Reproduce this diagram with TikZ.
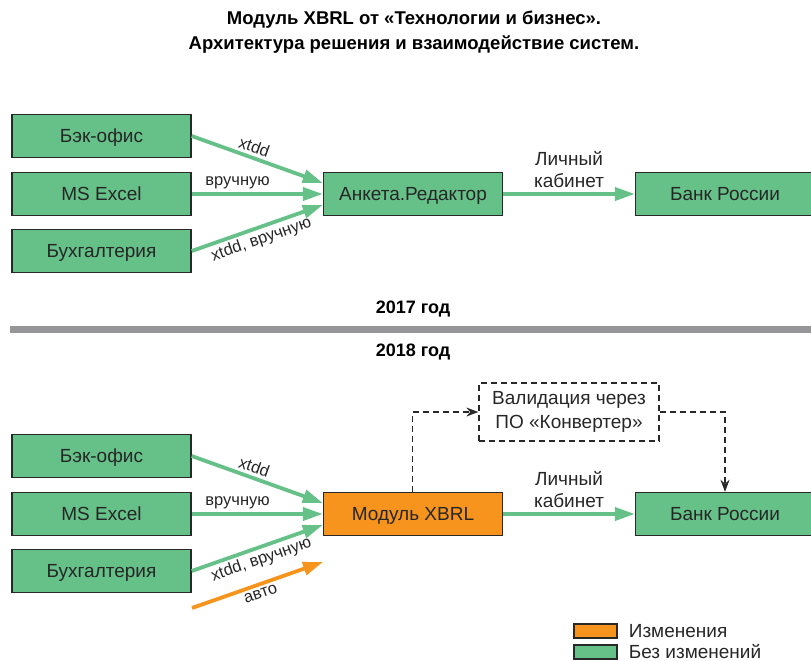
\documentclass[tikz,border=0pt]{standalone}
\usepackage{fontspec}
\setmainfont{Liberation Sans}
\usetikzlibrary{arrows.meta, positioning}
\definecolor{keepcolor}{RGB}{102,193,137}
\definecolor{changecolor}{RGB}{247,148,29}
\definecolor{bordercolor}{RGB}{40,40,40}
\definecolor{sepcolor}{RGB}{150,150,152}

\begin{document}
\begin{tikzpicture}[
    x=1pt, y=-1pt,
    box/.style={draw=bordercolor, line width=1.4pt, minimum width=179pt, minimum height=43pt, inner sep=0pt, text height=13.6pt, text depth=0pt, font=\fontsize{19}{22}\selectfont, text=black!85},
    dashbox/.style={draw=bordercolor, dash pattern=on 6pt off 4pt, line width=1.3pt, minimum width=180pt, minimum height=58pt, inner sep=0pt, align=center, font=\fontsize{19}{24}\selectfont, text=black!85},
    arrow/.style={-{Triangle[length=20pt, width=13pt]}, line width=3.8pt, keepcolor},
    dasharrow/.style={-{Stealth[length=12pt, width=9pt]}, line width=1.3pt, dash pattern=on 6pt off 4pt, bordercolor},
    lbl/.style={font=\fontsize{16.5}{18}\selectfont, text=black!85, inner sep=3pt},
    keybox/.style={draw=bordercolor, line width=1.3pt, minimum width=43pt, minimum height=14pt, inner sep=0pt}
]
    \useasboundingbox (0,0) rectangle (811,661);

    % Title
    \node[font=\bfseries\fontsize{18.5}{25}\selectfont, align=center] (title) at (414,32) {Модуль XBRL от «Технологии и бизнес».\\Архитектура решения и взаимодействие систем.};

    % 2017
    \node[box, fill=keepcolor] (office) at (101.5,136) {Бэк-офис};
    \node[box, fill=keepcolor] (excel) at (101.5,194) {MS Excel};
    \node[box, fill=keepcolor] (account) at (101.5,251) {Бухгалтерия};
    \node[box, fill=keepcolor] (editor) at (413,194) {Анкета.Редактор};
    \node[box, fill=keepcolor] (bank) at (725,194) {Банк России};

    \draw[arrow] (office.east) -- node[lbl, pos=0.45, above, sloped] {xtdd} ([yshift=11pt]editor.west);
    \draw[arrow] (excel.east) -- node[lbl, pos=0.35, above] {вручную} (editor.west);
    \draw[arrow] (account.east) -- node[lbl, pos=0.5, below, sloped] {xtdd, вручную} ([yshift=-11pt]editor.west);
    \draw[arrow] (editor.east) -- node[lbl, font=\fontsize{19}{22}\selectfont, align=center, above=1pt] {Личный\\кабинет} (bank.west);

    % Separator
    \node[font=\bfseries\fontsize{18}{20}\selectfont] (y2017) at (413,309) {2017 год};
    \coordinate (sepL) at (10,329.5);
    \coordinate (sepR) at (811,329.5);
    \draw[line width=7pt, sepcolor] (sepL) -- (sepR);
    \node[font=\bfseries\fontsize{18}{20}\selectfont] (y2018) at (413,352) {2018 год};

    % 2018
    \node[box, fill=keepcolor] (officeB) at (101.5,456) {Бэк-офис};
    \node[box, fill=keepcolor] (excelB) at (101.5,514) {MS Excel};
    \node[box, fill=keepcolor] (accountB) at (101.5,571) {Бухгалтерия};
    \node[box, fill=changecolor] (xbrl) at (413,514) {Модуль XBRL};
    \node[box, fill=keepcolor] (bankB) at (725,514) {Банк России};
    \node[dashbox] (valid) at (569,412) {Валидация через\\ПО «Конвертер»};

    \draw[arrow] (officeB.east) -- node[lbl, pos=0.45, above, sloped] {xtdd} ([yshift=11pt]xbrl.west);
    \draw[arrow] (excelB.east) -- node[lbl, pos=0.35, above] {вручную} (xbrl.west);
    \draw[arrow] (accountB.east) -- node[lbl, pos=0.5, below, sloped] {xtdd, вручную} ([yshift=-11pt]xbrl.west);
    \coordinate (autoS) at (192,608);
    \coordinate (autoE) at (323,562);
    \draw[arrow, changecolor] (autoS) -- node[lbl, pos=0.5, below, sloped] {авто} (autoE);
    \draw[arrow] (xbrl.east) -- node[lbl, font=\fontsize{19}{22}\selectfont, align=center, above=1pt] {Личный\\кабинет} (bankB.west);

    \draw[dasharrow] ([xshift=90pt]xbrl.north west) |- (valid.west);
    \draw[dasharrow] (valid.east) -| (bankB.north);

    % Legend
    \node[keybox, fill=changecolor] (keyA) at (595.5,631) {};
    \node[keybox, fill=keepcolor] (keyB) at (595.5,652) {};
    \node[right=11pt of keyA, inner sep=0pt, font=\fontsize{19}{20}\selectfont, text=black!85] (keyAtext) {Изменения};
    \node[right=11pt of keyB, inner sep=0pt, font=\fontsize{19}{20}\selectfont, text=black!85] (keyBtext) {Без изменений};
\end{tikzpicture}
\end{document}
